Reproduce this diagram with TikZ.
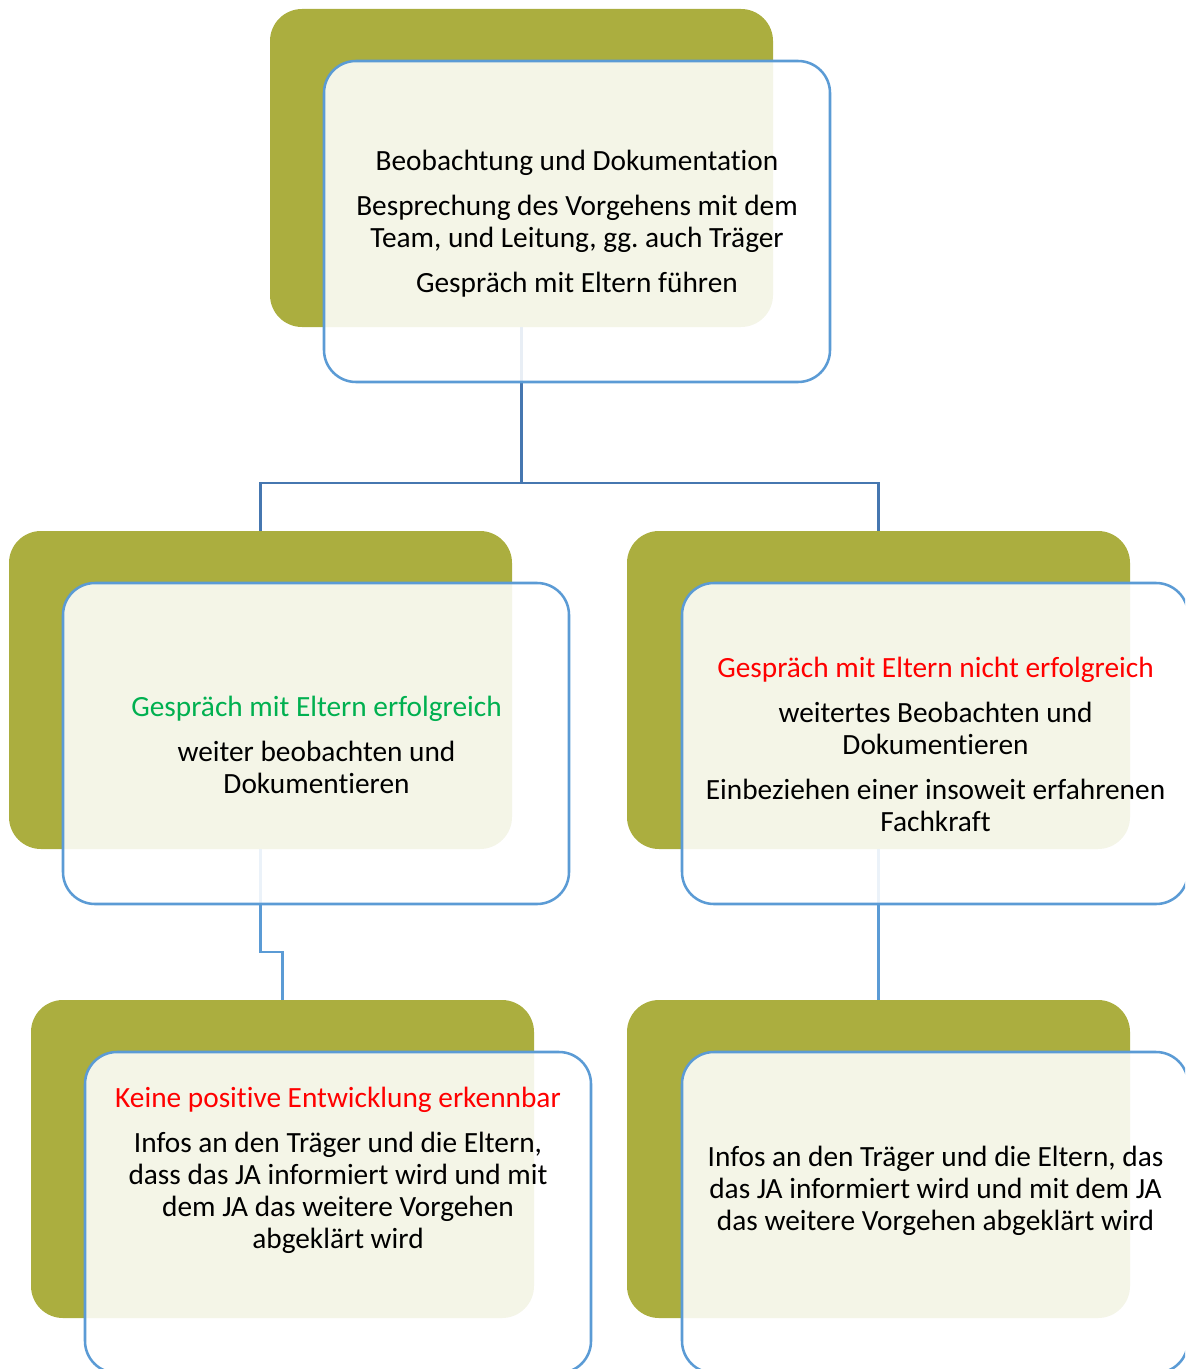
\documentclass[tikz,border=0pt]{standalone}
\usepackage{fontspec}
\setmainfont{Carlito}[Ligatures=NoCommon]
\frenchspacing
\definecolor{boxolive}{HTML}{ABAE3F}
\definecolor{boxblue}{HTML}{5B9BD5}
\definecolor{linkdark}{HTML}{4677B0}
\definecolor{linklight}{HTML}{5B9BD5}
\definecolor{okgreen}{HTML}{00B050}
\definecolor{badred}{HTML}{FF0000}
\tikzset{
  backbox/.style={fill=boxolive, rounded corners=24pt, inner sep=0pt, outer sep=0pt,
    anchor=north west, minimum width=377.25pt, minimum height=238.5pt},
  frontbox/.style={draw=boxblue, line width=1.9pt, fill=white, fill opacity=0.88,
    rounded corners=24pt, inner sep=0pt, outer sep=0pt,
    anchor=north west, minimum width=379.5pt, minimum height=240.75pt},
  boxtext/.style={align=center, font=\fontsize{22}{24}\selectfont, text=black, inner sep=0pt},
  linkline/.style={draw=linkdark, line width=1.7pt},
  linklineb/.style={draw=linklight, line width=1.7pt}
}
\begin{document}
\begin{tikzpicture}[x=0.75pt,y=-0.75pt]
\useasboundingbox (0,0) rectangle (1185,1369);
\clip (0,0) rectangle (1185,1369);
% back boxes
\node[backbox] (tback) at (270,9) {};
\node[backbox] (mlback) at (9,531) {};
\node[backbox] (mrback) at (627,531) {};
\node[backbox] (blback) at (31,1000) {};
\node[backbox] (brback) at (627,1000) {};
% connectors
\coordinate (j1) at (521.5,483);
\draw[linkline] (tback.south) -- (j1) -| (mlback.north);
\draw[linkline] (j1) -| (mrback.north);
\coordinate (j2) at (271,952);
\draw[linklineb] (mlback.south) |- (j2) -| (blback.north);
\draw[linklineb] (mrback.south) -- (brback.north);
% front boxes
\node[frontbox] (tfront) at (324,61) {};
\node[frontbox] (mlfront) at (63,583) {};
\node[frontbox] (mrfront) at (682,583) {};
\node[frontbox] (blfront) at (85,1052) {};
\node[frontbox] (brfront) at (682,1052) {};
% texts
\node[boxtext] (ttext) at (577,223.5) {Beobachtung und Dokumentation\\[9.75pt]
Besprechung des Vorgehens mit dem\\ Team, und Leitung, gg. auch Träger\\[9.75pt]
Gespräch mit Eltern führen};
\node[boxtext] (mltext) at (316.5,744.5) {\textcolor{okgreen}{Gespräch mit Eltern erfolgreich}\\[9.75pt]
weiter beobachten und\\ Dokumentieren};
\node[boxtext] (mrtext) at (935.5,744.5) {\textcolor{badred}{Gespräch mit Eltern nicht erfolgreich}\\[9.75pt]
weitertes Beobachten und\\ Dokumentieren\\[9.75pt]
Einbeziehen einer insoweit erfahrenen\\ Fachkraft};
\node[boxtext] (bltext) at (338,1170) {\textcolor{badred}{Keine positive Entwicklung erkennbar}\\[9.75pt]
Infos an den Träger und die Eltern,\\ dass das JA informiert wird und mit\\ dem JA das weitere Vorgehen\\ abgeklärt wird};
\node[boxtext] (brtext) at (935.5,1191) {Infos an den Träger und die Eltern, das\\ das JA informiert wird und mit dem JA\\ das weitere Vorgehen abgeklärt wird};
\end{tikzpicture}
\end{document}
